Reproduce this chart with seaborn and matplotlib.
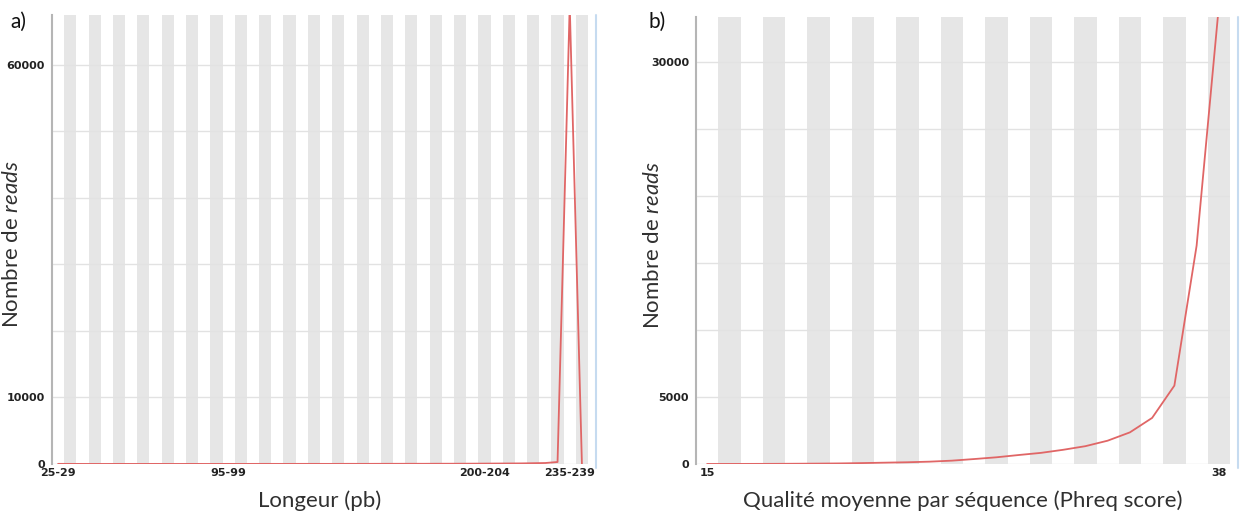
import matplotlib.pyplot as plt
import pandas as pd
import seaborn as sns
from matplotlib import font_manager

# a) read length distribution (bins of 5 bp)
length_bins = [f'{s}-{s + 4}' for s in range(25, 245, 5)]
length_reads = [20, 15, 10, 10, 10, 15, 10, 10, 15, 10, 10, 15, 10, 10,
                15, 10, 15, 20, 15, 15, 20, 20, 15, 20, 25, 20, 25, 30,
                30, 35, 30, 40, 40, 45, 50, 60, 70, 80, 90, 120, 150, 300,
                69000, 0]
length_shown = ['25-29', '95-99', '200-204', '235-239']

# b) mean quality per read
quality_scores = [15, 16, 17, 18, 19, 20, 21, 22, 23, 24, 25, 26,
                  27, 28, 29, 30, 31, 32, 33, 34, 35, 36, 37, 38]
quality_reads = [3, 5, 8, 12, 20, 30, 45, 70, 100, 130, 175, 250,
                 370, 500, 670, 830, 1060, 1330, 1740, 2360, 3440, 5850, 16300, 34200]
quality_shown = [15, 38]

sns.set_theme(style='white')
names = {f.name for f in font_manager.fontManager.ttflist}
label_font = 'Lato' if 'Lato' in names else 'DejaVu Sans'
plt.rcParams['font.family'] = ['DejaVu Sans']
plt.rcParams['mathtext.fontset'] = 'custom'
plt.rcParams['mathtext.rm'] = label_font
plt.rcParams['mathtext.it'] = label_font + ':italic'

LINE = '#e06666'
BAND = '#e6e6e6'
GRID = '#e2e2e2'
TEXT = '#303030'


def draw_panel(ax, cats, reads, shown, ymax, yticks, ylabels, xlabel, ylab_x):
    df = pd.DataFrame({'cat': [str(c) for c in cats], 'reads': reads})
    df['pos'] = range(len(df))

    # alternating grey bands, one per category
    for p in df.pos[1::2]:
        ax.axvspan(p - 0.5, p + 0.5, color=BAND, lw=0, zorder=0)

    sns.lineplot(data=df, x='pos', y='reads', ax=ax, color=LINE, lw=1.3,
                 zorder=3)

    ax.set_xlim(-0.5, len(df) - 0.5)
    ax.set_ylim(0, ymax)
    ax.set_yticks(yticks)
    ax.set_yticklabels(ylabels)
    keep = df[df.cat.isin([str(s) for s in shown])]
    ax.set_xticks(keep.pos)
    ax.set_xticklabels(keep.cat)

    ax.set_axisbelow(True)
    ax.grid(axis='y', color=GRID, lw=1, zorder=0.5)
    ax.grid(axis='x', visible=False)
    for side in ['top', 'right', 'bottom']:
        ax.spines[side].set_visible(False)
    ax.spines['left'].set_color('#b5b5b5')
    ax.spines['left'].set_linewidth(1.5)
    ax.tick_params(axis='both', length=0, labelsize=8)
    ax.tick_params(axis='y', pad=5)
    ax.tick_params(axis='x', pad=3)
    for t in ax.get_xticklabels() + ax.get_yticklabels():
        t.set_fontweight('bold')
        t.set_color('#222222')

    ax.set_xlabel(xlabel, family=label_font, fontsize=16, color=TEXT,
                  labelpad=9)
    ax.set_ylabel('Nombre de $\\mathit{reads}$', family=label_font,
                  fontsize=16, color=TEXT)
    ax.yaxis.set_label_coords(ylab_x, 0.49)

    # thin blue frame edge on the right
    ax.plot([1.015, 1.015], [-0.01, 1.0], transform=ax.transAxes,
            color='#c6dbf0', lw=1.5, clip_on=False)


fig = plt.figure(figsize=(12.42, 5.14), dpi=100)
ax_a = fig.add_axes([52 / 1242, 50 / 514, 536 / 1242, 449 / 514])
ax_b = fig.add_axes([696 / 1242, 50 / 514, 534 / 1242, 447 / 514])

draw_panel(ax_a, length_bins, length_reads, length_shown, 67500,
           list(range(0, 70000, 10000)),
           ['0', '10000', '', '', '', '', '60000'], 'Longeur (pb)', -0.056)
draw_panel(ax_b, quality_scores, quality_reads, quality_shown, 33360,
           list(range(0, 35000, 5000)),
           ['0', '5000', '', '', '', '', '30000'],
           'Qualité moyenne par séquence (Phreq score)', -0.062)

fig.text(10 / 1242, 1 - 22 / 514, 'a)', family=label_font, fontsize=15,
         va='center', ha='left', color='#111111')
fig.text(648 / 1242, 1 - 22 / 514, 'b)', family=label_font, fontsize=15,
         va='center', ha='left', color='#111111')

fig.savefig('out.png', dpi=100)
